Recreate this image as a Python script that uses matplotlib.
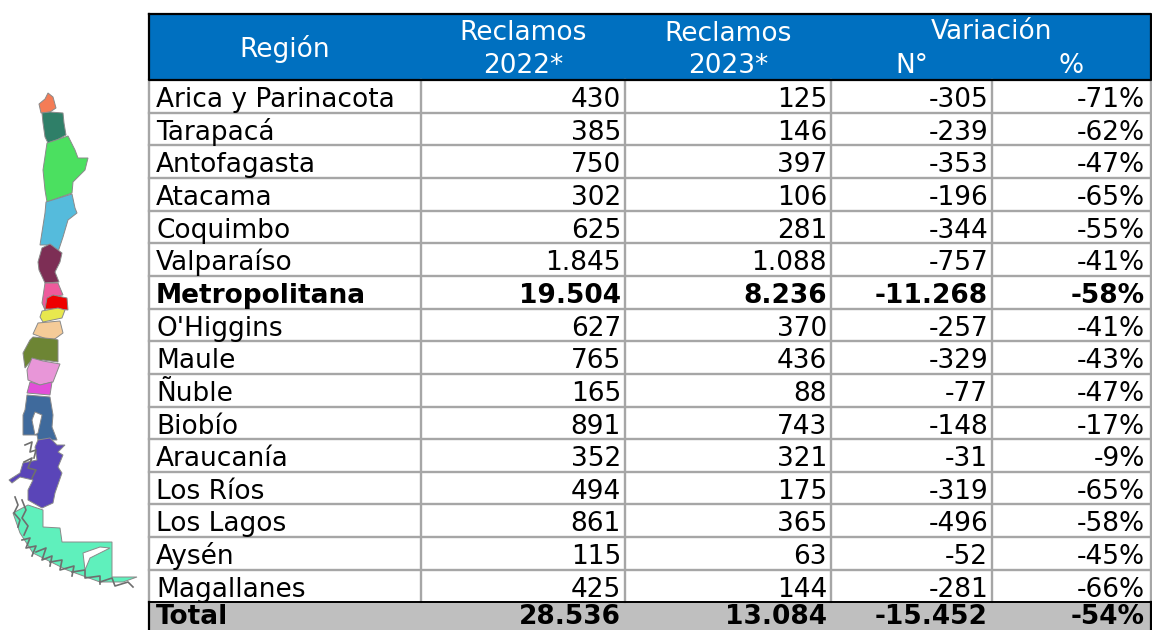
import matplotlib
matplotlib.use('Agg')
import matplotlib.pyplot as plt
from matplotlib.patches import Polygon, Rectangle

regiones = ["Arica y Parinacota", "Tarapacá", "Antofagasta", "Atacama", "Coquimbo", "Valparaíso",
            "Metropolitana", "O'Higgins", "Maule", "Ñuble", "Biobío", "Araucanía", "Los Ríos",
            "Los Lagos", "Aysén", "Magallanes"]
reclamos_2022 = [430, 385, 750, 302, 625, 1845, 19504, 627, 765, 165, 891, 352, 494, 861, 115, 425]
reclamos_2023 = [125, 146, 397, 106, 281, 1088, 8236, 370, 436, 88, 743, 321, 175, 365, 63, 144]
variacion_n = [-305, -239, -353, -196, -344, -757, -11268, -257, -329, -77, -148, -31, -319, -496, -52, -281]
variacion_pct = [-71, -62, -47, -65, -55, -41, -58, -41, -43, -47, -17, -9, -65, -58, -45, -66]
total = ["Total", 28536, 13084, -15452, -54]

# map outline, traced by hand in pixels (colour, points)
mapa = [
    ("#f47c56", [(48, 93), (53, 97), (56, 108), (50, 112), (41, 113), (39, 104), (45, 99)]),
    ("#2f7f68", [(42, 113), (50, 112), (63, 113), (64, 123), (66, 135), (57, 140), (48, 143), (45, 137), (43, 123)]),
    ("#4be060", [(68, 136), (75, 150), (78, 158), (88, 158), (85, 170), (73, 182), (72, 193), (47, 202), (45, 190), (43, 170), (47, 143)]),
    ("#55bbdc", [(72, 194), (75, 208), (77, 213), (68, 220), (63, 237), (58, 252), (50, 245), (40, 245), (45, 213), (46, 202)]),
    ("#7d2e55", [(50, 244), (62, 253), (60, 262), (55, 272), (59, 282), (45, 283), (39, 270), (38, 262), (42, 248)]),
    ("#ee5a9c", [(45, 283), (58, 283), (63, 295), (50, 297), (45, 310), (42, 303)]),
    ("#ee0000", [(47, 298), (53, 295), (67, 298), (68, 310), (58, 309), (45, 309)]),
    ("#e8e84e", [(42, 311), (58, 308), (65, 310), (62, 318), (43, 322), (40, 317)]),
    ("#f5cb98", [(38, 323), (60, 321), (63, 333), (52, 341), (33, 334)]),
    ("#6d8534", [(33, 337), (55, 339), (58, 340), (58, 362), (43, 360), (30, 362), (25, 368), (23, 353), (30, 340)]),
    ("#e896d8", [(32, 358), (43, 361), (60, 364), (53, 382), (40, 385), (28, 380), (27, 370)]),
    ("#e24fd8", [(30, 382), (40, 385), (52, 382), (50, 395), (27, 393)]),
    ("#3f6a9c", [(27, 395), (50, 397), (53, 415), (52, 427), (57, 440), (38, 440), (37, 435), (23, 435), (23, 415), (25, 410)]),
    ("#5a45b8", [(38, 440), (50, 438), (57, 445), (65, 445), (58, 452), (63, 455), (58, 467), (62, 473), (55, 493), (53, 503),
                 (42, 508), (28, 500), (28, 490), (33, 480), (20, 477), (12, 483), (9, 480), (20, 473), (23, 463), (37, 460), (35, 447)]),
    ("#5ff0bc", [(28, 505), (43, 510), (43, 527), (60, 528), (62, 542), (112, 542), (112, 577), (137, 577), (123, 582),
                 (100, 582), (67, 570), (33, 553), (20, 533), (13, 513)]),
]
huecos = [
    [(35, 412), (42, 415), (38, 433), (35, 435), (32, 420)],
    [(83, 553), (100, 547), (110, 548), (90, 558), (85, 570)],
]
fiordos = [
    [(15, 497), (18, 505), (14, 513), (20, 520), (18, 527)],
    [(22, 500), (26, 510), (22, 518), (28, 526), (24, 535)],
    [(22, 540), (30, 538), (26, 548), (36, 546), (32, 556)],
    [(36, 552), (46, 548), (42, 560), (52, 556), (50, 566)],
    [(50, 562), (62, 560), (60, 570), (74, 566), (72, 576)],
    [(72, 572), (85, 570), (85, 578), (100, 576), (100, 584)],
    [(100, 582), (112, 578), (115, 586), (128, 582), (133, 587)],
    [(25, 445), (32, 442), (30, 452), (36, 450), (34, 458)],
    [(24, 462), (32, 458), (28, 468), (36, 470), (32, 478)],
]

fig = plt.figure(figsize=(11.52, 6.3), dpi=100)
ax = fig.add_axes([0, 0, 1, 1])
ax.set_xlim(0, 1152)
ax.set_ylim(630, 0)
ax.axis('off')

# map
for color, pts in mapa:
    ax.add_patch(Polygon(pts, closed=True, facecolor=color, edgecolor='#8a8a8a', lw=0.7, zorder=2))
for pts in huecos:
    ax.add_patch(Polygon(pts, closed=True, facecolor='white', edgecolor='#8a8a8a', lw=0.7, zorder=3))
for pts in fiordos:
    ax.plot([p[0] for p in pts], [p[1] for p in pts], color='#6e6e6e', lw=1.2, zorder=4)

# table geometry
col_x = [149, 421, 625, 831, 992, 1151]
head_top, head_bot = 14, 79.5
row_h = 32.65
rows_top = 80
n = len(regiones)
total_top = rows_top + n * row_h
fs = 19
gris = '#a6a6a6'

ax.add_patch(Rectangle((col_x[0], head_top), col_x[-1] - col_x[0], head_bot - head_top, facecolor='#0070c0', edgecolor='none'))
ax.add_patch(Rectangle((col_x[0], total_top), col_x[-1] - col_x[0], 630 - total_top, facecolor='#bfbfbf', edgecolor='none'))

for i in range(1, n):
    ax.plot([col_x[0], col_x[-1]], [rows_top + i * row_h] * 2, color=gris, lw=1.7, zorder=1)
for x in col_x:
    ax.plot([x, x], [rows_top, total_top], color=gris, lw=1.7, zorder=1)

# black borders
ax.plot([col_x[0], col_x[-1], col_x[-1], col_x[0], col_x[0]],
        [head_top, head_top, head_bot, head_bot, head_top], color='black', lw=1.6, zorder=5)
ax.plot([col_x[0], col_x[-1]], [total_top, total_top], color='black', lw=1.4, zorder=5)
ax.plot([col_x[0], col_x[0]], [total_top, 630], color='black', lw=1.6, zorder=5)
ax.plot([col_x[-1], col_x[-1]], [total_top, 630], color='black', lw=1.6, zorder=5)


def num(v):
    return f"{v:,}".replace(",", ".")


def fila(i, vals, bold=False, dy=27):
    base = rows_top + i * row_h + dy
    w = 'bold' if bold else 'normal'
    ax.text(col_x[0] + 7, base, vals[0], fontsize=fs, fontweight=w, ha='left', va='baseline')
    for j, v in enumerate(vals[1:4]):
        ax.text(col_x[j + 2] - 4, base, num(v), fontsize=fs, fontweight=w, ha='right', va='baseline')
    ax.text(col_x[5] - 6, base, f"{vals[4]}%", fontsize=fs, fontweight=w, ha='right', va='baseline')


for i in range(n):
    fila(i, [regiones[i], reclamos_2022[i], reclamos_2023[i], variacion_n[i], variacion_pct[i]],
         bold=regiones[i] == "Metropolitana")
# kept a bit higher than the other rows so the descent stays on the page
fila(n, total, bold=True, dy=22)

# header
hdr = dict(color='white', fontsize=fs, ha='center', va='center', zorder=6)
ax.text((col_x[0] + col_x[1]) / 2, 49, "Región", **hdr)
ax.text((col_x[1] + col_x[2]) / 2, 33, "Reclamos", **hdr)
ax.text((col_x[1] + col_x[2]) / 2, 66, "2022*", **hdr)
ax.text((col_x[2] + col_x[3]) / 2, 34, "Reclamos", **hdr)
ax.text((col_x[2] + col_x[3]) / 2, 66, "2023*", **hdr)
ax.text(col_x[4], 32, "Variación", **hdr)
ax.text((col_x[3] + col_x[4]) / 2, 66, "N°", **hdr)
ax.text((col_x[4] + col_x[5]) / 2, 66, "%", **hdr)

fig.savefig('out.png', dpi=100, facecolor='white')
